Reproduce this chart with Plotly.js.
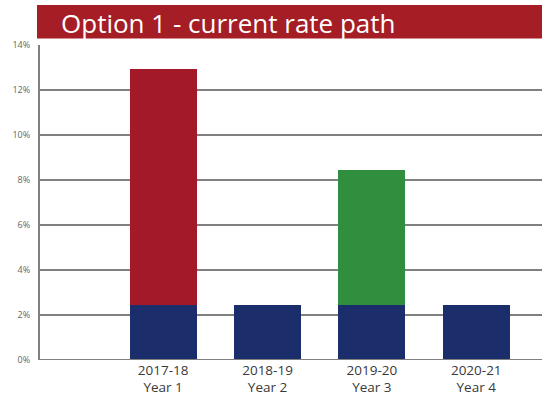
<!DOCTYPE html>
<html><head><meta charset="utf-8">
<script src="https://cdn.plot.ly/plotly-3.0.1.min.js"></script>
<style>html,body{margin:0;padding:0;background:#fff}#chart{width:542px;height:401px}</style>
</head><body><div id="chart"></div>
<script>
var categories = ["2017-18<br>Year 1", "2018-19<br>Year 2", "2019-20<br>Year 3", "2020-21<br>Year 4"];
var baseValues = [2.45, 2.45, 2.45, 2.45];
var redValues = [10.5, 0, 0, 0];
var greenValues = [0, 0, 6.0, 0];
var yTickVals = [0, 2, 4, 6, 8, 10, 12, 14];
var yTickText = ["0%", "2%", "4%", "6%", "8%", "10%", "12%", "14%"];
var titleText = "Option 1 - current rate path";

var traces = [
  {type: "bar", x: categories, y: baseValues, marker: {color: "#1b2d6b"}, width: 0.64, hoverinfo: "none"},
  {type: "bar", x: categories, y: redValues, marker: {color: "#a3192a"}, width: 0.64, hoverinfo: "none"},
  {type: "bar", x: categories, y: greenValues, marker: {color: "#2f8f3f"}, width: 0.64, hoverinfo: "none"}
];
var layout = {
  width: 542, height: 401,
  margin: {l: 40, r: 0, t: 45, b: 41},
  barmode: "stack",
  showlegend: false,
  paper_bgcolor: "#fff", plot_bgcolor: "#fff",
  xaxis: {type: "category", range: [-1.18, 3.63], showgrid: false, zeroline: false,
    showline: false, ticks: "", tickfont: {family: "Open Sans, sans-serif", size: 13.5, color: "#3a3a3a"}},
  yaxis: {range: [0, 14], tickvals: yTickVals, ticktext: yTickText, showgrid: true,
    gridcolor: "#808080", gridwidth: 2, zeroline: false, showline: true, linecolor: "#808080", linewidth: 2,
    ticks: "", ticklabelstandoff: 6, tickfont: {family: "Open Sans, sans-serif", size: 9, color: "#666"}},
  shapes: [
    {type: "rect", xref: "paper", yref: "paper", x0: -0.006, x1: 1, y0: 1.021, y1: 1.127, fillcolor: "#a51d25", line: {width: 0}, layer: "above"},
    {type: "line", xref: "paper", yref: "y", x0: 0, x1: 1, y0: 0, y1: 0, line: {color: "#808080", width: 2}, layer: "above"}
  ],
  annotations: [
    {xref: "paper", yref: "paper", x: 0.037, y: 1.071, xanchor: "left", yanchor: "middle", showarrow: false,
     text: titleText, font: {family: "Open Sans, sans-serif", size: 26, color: "#fff"}}
  ]
};
Plotly.newPlot("chart", traces, layout, {displayModeBar: false, staticPlot: true});
</script></body></html>
